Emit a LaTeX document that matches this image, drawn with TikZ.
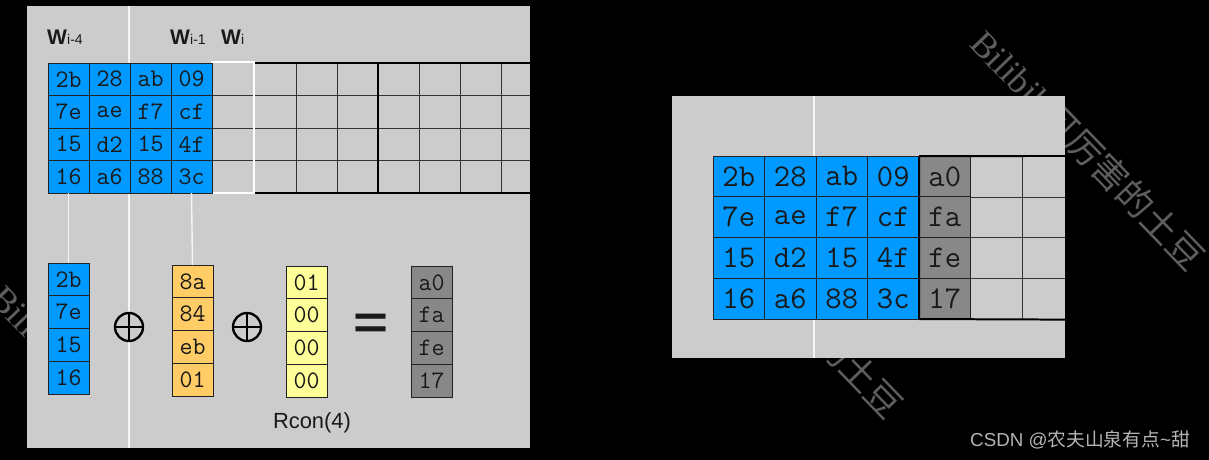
\documentclass[tikz,border=0pt]{standalone}
\usepackage{fontspec}
\setmainfont{Liberation Sans}
\newfontfamily\cjk{Noto Sans CJK SC}
\newfontfamily\wmfont{Liberation Serif}
\usepackage{tikz}
\usetikzlibrary{positioning}

\definecolor{panelgray}{HTML}{CCCCCC}
\definecolor{aesblue}{HTML}{0099FF}
\definecolor{aesorange}{HTML}{FFCC66}
\definecolor{aesyellow}{HTML}{FFFF99}
\definecolor{aesgray}{HTML}{888888}
\definecolor{cellline}{HTML}{222222}
\definecolor{wmgray}{HTML}{5E5E5E}
\definecolor{csdngray}{HTML}{B4B4B4}

\newcommand{\wlab}[1]{{\fontsize{18}{18}\selectfont\bfseries W}{\fontsize{12}{12}\selectfont #1}}

\tikzset{
  cell/.style={draw=cellline, line width=0.8pt, minimum width=1.23cm, minimum height=0.975cm,
    inner sep=0pt, outer sep=0pt, text=black!90, font=\ttfamily\fontsize{21.5}{21.5}\selectfont},
  bigcell/.style={cell, minimum width=1.545cm, minimum height=1.2225cm, font=\ttfamily\fontsize{27}{27}\selectfont},
  colcell/.style={cell, minimum height=0.9825cm},
  bluecell/.style={fill=aesblue},
  orgcell/.style={fill=aesorange},
  ylwcell/.style={fill=aesyellow},
  grycell/.style={fill=aesgray},
  gridline/.style={draw=black!80, line width=0.8pt},
  gridthick/.style={draw=black, line width=1.7pt},
  wline/.style={draw=white!92!gray, line width=1.2pt},
  xorsym/.style={circle, draw=black, line width=2pt, minimum size=0.84cm, inner sep=0pt,
    path picture={\draw[line width=2pt] (path picture bounding box.north) -- (path picture bounding box.south)
      (path picture bounding box.west) -- (path picture bounding box.east);}},
  lbl/.style={inner sep=0pt, text=black!90},
  wmark/.style={inner sep=0pt, text=wmgray, anchor=base west, rotate=-46,
    font=\fontsize{30.6}{30.6}\selectfont}
}

\begin{document}
\begin{tikzpicture}[x=0.03cm, y=-0.03cm]
  \useasboundingbox (0,0) rectangle (1209,460);
  \fill[black] (0,0) rectangle (1209,460);

  \node[wmark] (wm1) at (968,45) {{\wmfont Bilibili}\cjk 可厉害的土豆};
  \node[wmark] (wm2) at (812,344) {\cjk 的土豆};
  \node[wmark] (wm3) at (-12,300) {\wmfont Bili};

  \fill[panelgray] (27,6) rectangle (530,448);
  \fill[panelgray] (672,96) rectangle (1065,358);
  \draw[wline] (129,6) -- (129,448);
  \draw[wline] (814,96) -- (814,358);

  \node[lbl, anchor=base west] (wa) at (47,45) {\wlab{i-4}};
  \node[lbl, anchor=base west] (wb) at (170,45) {\wlab{i-1}};
  \node[lbl, anchor=base west] (wc) at (221,45) {\wlab{i}};

  \draw[gridline] (212,95.5) -- (530,95.5) (212,128) -- (530,128) (212,160.5) -- (530,160.5);
  \draw[gridline] (296,63) -- (296,193) (337,63) -- (337,193) (419,63) -- (419,193)
    (460,63) -- (460,193) (501,63) -- (501,193);
  \draw[gridthick] (254,63) -- (530,63) (254,193) -- (530,193) (378,63) -- (378,193);
  \draw[white, line width=1.7pt] (212,62) rectangle (254,193);

  \node[cell,bluecell] (c11) at (68.5,79.25) {2b};
  \node[cell,bluecell,right=0pt of c11] (c12) {28};
  \node[cell,bluecell,right=0pt of c12] (c13) {ab};
  \node[cell,bluecell,right=0pt of c13] (c14) {09};
  \node[cell,bluecell,below=0pt of c11] (c21) {7e};
  \node[cell,bluecell,right=0pt of c21] (c22) {ae};
  \node[cell,bluecell,right=0pt of c22] (c23) {f7};
  \node[cell,bluecell,right=0pt of c23] (c24) {cf};
  \node[cell,bluecell,below=0pt of c21] (c31) {15};
  \node[cell,bluecell,right=0pt of c31] (c32) {d2};
  \node[cell,bluecell,right=0pt of c32] (c33) {15};
  \node[cell,bluecell,right=0pt of c33] (c34) {4f};
  \node[cell,bluecell,below=0pt of c31] (c41) {16};
  \node[cell,bluecell,right=0pt of c41] (c42) {a6};
  \node[cell,bluecell,right=0pt of c42] (c43) {88};
  \node[cell,bluecell,right=0pt of c43] (c44) {3c};

  \node[colcell,bluecell] (b1) at (68.5,279.4) {2b};
  \node[colcell,bluecell,below=0pt of b1] (b2) {7e};
  \node[colcell,bluecell,below=0pt of b2] (b3) {15};
  \node[colcell,bluecell,below=0pt of b3] (b4) {16};

  \node[colcell,orgcell] (o1) at (192.5,281.4) {8a};
  \node[colcell,orgcell,below=0pt of o1] (o2) {84};
  \node[colcell,orgcell,below=0pt of o2] (o3) {eb};
  \node[colcell,orgcell,below=0pt of o3] (o4) {01};

  \node[colcell,ylwcell] (y1) at (306.5,282.4) {01};
  \node[colcell,ylwcell,below=0pt of y1] (y2) {00};
  \node[colcell,ylwcell,below=0pt of y2] (y3) {00};
  \node[colcell,ylwcell,below=0pt of y3] (y4) {00};

  \node[colcell,grycell] (g1) at (431.5,282.4) {a0};
  \node[colcell,grycell,below=0pt of g1] (g2) {fa};
  \node[colcell,grycell,below=0pt of g2] (g3) {fe};
  \node[colcell,grycell,below=0pt of g3] (g4) {17};

  \draw[wline] (c41.south) -- (b1.north);
  \draw[wline] (c44.south) -- (o1.north);

  \node[xorsym] (x1) at (129,327) {};
  \node[xorsym] (x2) at (247,327) {};
  \node[lbl] (eq) at (371,326.5) {\fontsize{40}{40}\selectfont\bfseries\scalebox{1.28}[1]{=}};
  \node[lbl] (rcon) at (312,423) {\fontsize{18.7}{18.7}\selectfont Rcon(4)};

  \draw[gridline] (970.5,197) -- (1065,197) (970.5,237.5) -- (1065,237.5) (970.5,278) -- (1065,278)
    (1022,156) -- (1022,319);

  \node[bigcell,bluecell] (r11) at (738.75,176.4) {2b};
  \node[bigcell,bluecell,right=0pt of r11] (r12) {28};
  \node[bigcell,bluecell,right=0pt of r12] (r13) {ab};
  \node[bigcell,bluecell,right=0pt of r13] (r14) {09};
  \node[bigcell,grycell,right=0pt of r14] (r15) {a0};
  \node[bigcell,bluecell,below=0pt of r11] (r21) {7e};
  \node[bigcell,bluecell,right=0pt of r21] (r22) {ae};
  \node[bigcell,bluecell,right=0pt of r22] (r23) {f7};
  \node[bigcell,bluecell,right=0pt of r23] (r24) {cf};
  \node[bigcell,grycell,right=0pt of r24] (r25) {fa};
  \node[bigcell,bluecell,below=0pt of r21] (r31) {15};
  \node[bigcell,bluecell,right=0pt of r31] (r32) {d2};
  \node[bigcell,bluecell,right=0pt of r32] (r33) {15};
  \node[bigcell,bluecell,right=0pt of r33] (r34) {4f};
  \node[bigcell,grycell,right=0pt of r34] (r35) {fe};
  \node[bigcell,bluecell,below=0pt of r31] (r41) {16};
  \node[bigcell,bluecell,right=0pt of r41] (r42) {a6};
  \node[bigcell,bluecell,right=0pt of r42] (r43) {88};
  \node[bigcell,bluecell,right=0pt of r43] (r44) {3c};
  \node[bigcell,grycell,right=0pt of r44] (r45) {17};

  \draw[gridthick] (r15.north west) -- (1065,156) (r45.south west) -- (1065,319.6)
    (r15.north west) -- (r45.south west);

  \node[lbl, anchor=base west, text=csdngray] (csdn) at (970,446)
    {\fontsize{16}{16}\selectfont CSDN @{\cjk 农夫山泉有点}\textasciitilde{\cjk 甜}};
\end{tikzpicture}
\end{document}
